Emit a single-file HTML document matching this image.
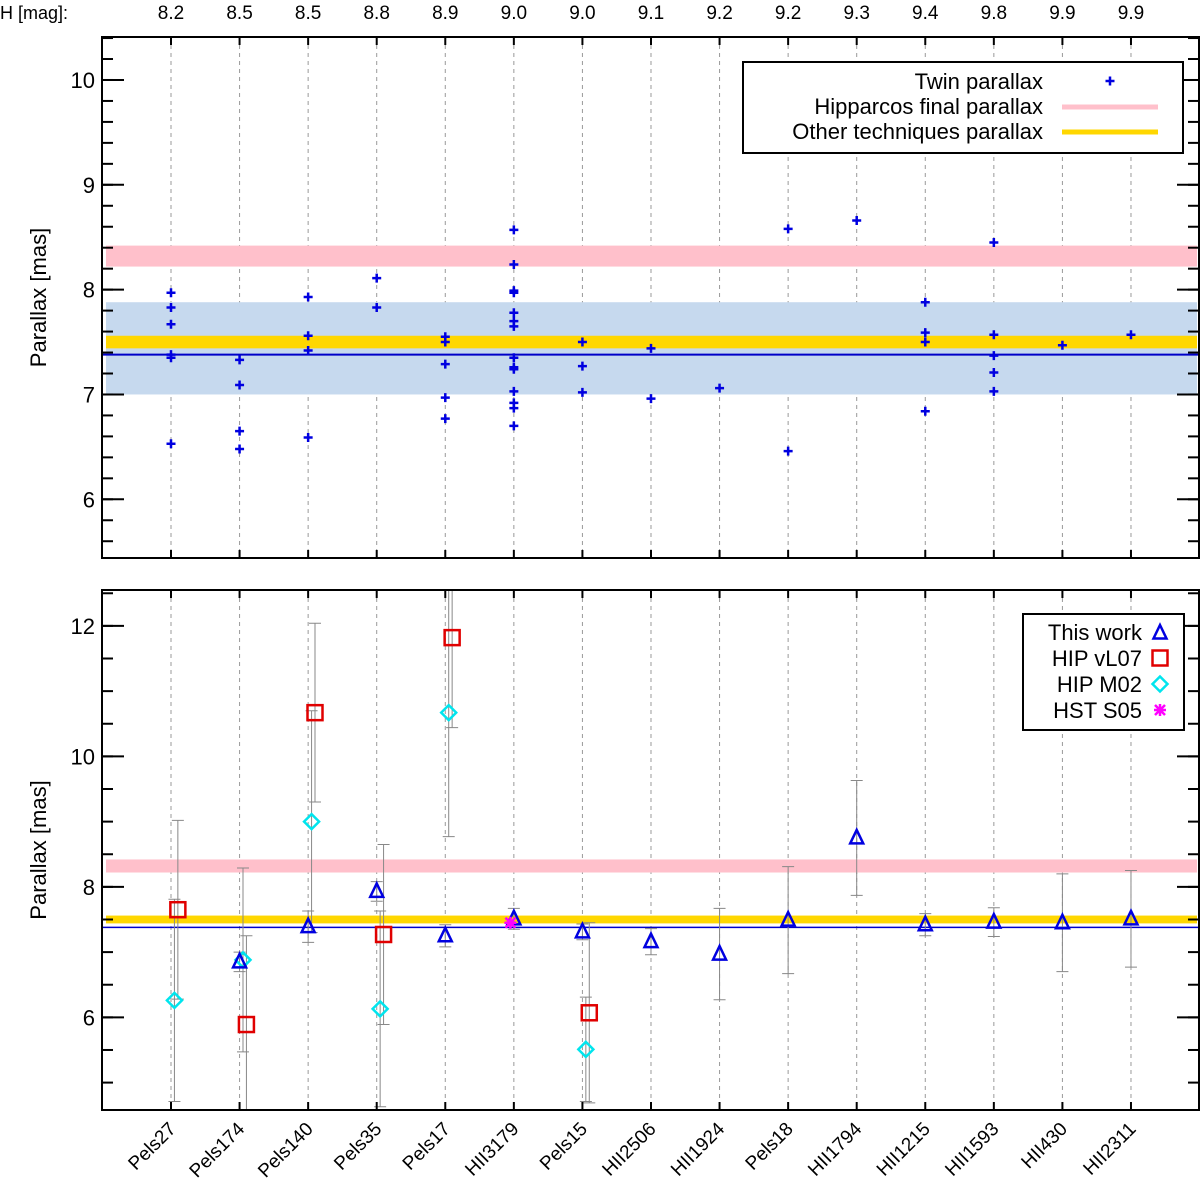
<!DOCTYPE html>
<html><head><meta charset="utf-8"><style>
html,body{margin:0;padding:0;background:#fff;}
svg{display:block;font-family:"Liberation Sans",sans-serif;}
</style></head><body>
<svg id="chart" width="1200" height="1193" viewBox="0 0 1200 1193" xmlns="http://www.w3.org/2000/svg"></svg>
<script>
const categories=["Pels27","Pels174","Pels140","Pels35","Pels17","HII3179","Pels15","HII2506","HII1924","Pels18","HII1794","HII1215","HII1593","HII430","HII2311"];
const hmags=["8.2","8.5","8.5","8.8","8.9","9.0","9.0","9.1","9.2","9.2","9.3","9.4","9.8","9.9","9.9"];
const twinValues=[
 [7.97,7.83,7.67,7.38,7.35,6.53],
 [7.33,7.09,6.65,6.48],
 [7.93,7.56,7.42,6.59],
 [8.11,7.83],
 [7.55,7.50,7.29,6.97,6.77],
 [8.57,8.24,7.99,7.97,7.78,7.70,7.65,7.35,7.26,7.24,7.03,6.92,6.87,6.70],
 [7.50,7.27,7.02],
 [7.44,6.96],
 [7.06],
 [8.58,6.46],
 [8.66],
 [7.88,7.59,7.50,6.84],
 [8.45,7.57,7.37,7.21,7.03],
 [7.47],
 [7.57]
];
const hipBand=[8.22,8.42];
const otherBand=[7.44,7.56];
const twinBand=[7.0,7.88];
const twinMean=7.38;
const thisWorkIdx=[1,2,3,4,5,6,7,8,9,10,11,12,13,14];
const thisWorkVal=[6.85,7.39,7.93,7.25,7.51,7.31,7.16,6.97,7.49,8.75,7.42,7.46,7.45,7.51];
const thisWorkErr=[0.15,0.24,0.15,0.17,0.16,0.12,0.2,0.7,0.82,0.88,0.17,0.22,0.75,0.74];
const vl07Idx=[0,1,2,3,4,6];
const vl07Val=[7.65,5.89,10.67,7.27,11.82,6.07];
const vl07Err=[1.37,1.36,1.37,1.38,1.38,1.38];
const m02Idx=[0,1,2,3,4,6];
const m02Val=[6.26,6.88,9.0,6.13,10.67,5.51];
const m02Err=[1.55,1.41,1.7,1.5,1.9,0.8];
const s05Idx=[5];
const s05Val=[7.45];
const s05Err=[0.05];

const NS="http://www.w3.org/2000/svg";
const svg=document.getElementById('chart');
function el(tag,attrs,parent){const e=document.createElementNS(NS,tag);for(const k in attrs)e.setAttribute(k,attrs[k]);(parent||svg).appendChild(e);return e;}
const X0=102,X1=1199;
function xs(i){return 171+i*68.57;}
const topP={y0:37,y1:558,vTop:10.41,vBot:5.44};
const botP={y0:590,y1:1110,vTop:12.55,vBot:4.58};
function ys(p,v){return p.y0+(p.vTop-v)/(p.vTop-p.vBot)*(p.y1-p.y0);}
function clip(p,v){return Math.max(p.y0,Math.min(p.y1,ys(p,v)));}

function panel(p,name){
  const g=el('g',{});
  
  
  categories.forEach((c,i)=>{
    const l=el('line',{x1:xs(i),x2:xs(i),y1:p.y0,y2:p.y1,stroke:'#999','stroke-width':1,'stroke-dasharray':'4,4'},g);
    
    
  });
  return g;
}
function frame(p,g,majors,minorStep){
  el('rect',{x:X0,y:p.y0,width:X1-X0,height:p.y1-p.y0,fill:'none',stroke:'#000','stroke-width':2},g);
  categories.forEach((c,i)=>{
    el('line',{x1:xs(i),x2:xs(i),y1:p.y0,y2:p.y0+8,stroke:'#000','stroke-width':2},g);
    el('line',{x1:xs(i),x2:xs(i),y1:p.y1,y2:p.y1-8,stroke:'#000','stroke-width':2},g);
  });
  for(let v=Math.ceil(p.vBot/minorStep)*minorStep;v<=p.vTop;v+=minorStep){
    const y=ys(p,v);
    el('line',{x1:X0,x2:X0+11,y1:y,y2:y,stroke:'#000','stroke-width':2},g);
    el('line',{x1:X1,x2:X1-11,y1:y,y2:y,stroke:'#000','stroke-width':2},g);
  }
  majors.forEach(v=>{
    const y=ys(p,v);
    el('line',{x1:X0,x2:X0+22,y1:y,y2:y,stroke:'#000','stroke-width':2},g);
    el('line',{x1:X1,x2:X1-22,y1:y,y2:y,stroke:'#000','stroke-width':2},g);
    const t=el('text',{x:X0-7,y:y+8,'text-anchor':'end','font-size':22},g);
    t.textContent=String(v);
    
    
  });
  const yc=(p.y0+p.y1)/2;
  const t=el('text',{x:46,y:yc,'text-anchor':'middle','font-size':22,transform:`rotate(-90 46 ${yc})`},g);
  t.textContent='Parallax [mas]';
  
  
}
function band(p,g,lo,hi,color,name){
  const r=el('rect',{x:X0+4,y:ys(p,hi),width:X1-X0-6,height:ys(p,lo)-ys(p,hi),fill:color},g);
  
  
}
function plus(g,x,y){
  const pth=el('path',{d:`M${x-4.5} ${y}H${x+4.5}M${x} ${y-4.5}V${y+4.5}`,stroke:'#0000e0','stroke-width':2.5},g);
  
  
}

const gt=panel(topP,'top-panel');
band(topP,gt,twinBand[0],twinBand[1],'#c6d9ee','twin-range-band');
band(topP,gt,hipBand[0],hipBand[1],'#ffc0cb','hipparcos-band');
band(topP,gt,otherBand[0],otherBand[1],'#ffd700','other-techniques-band');
const ml=el('line',{x1:X0,x2:X1,y1:ys(topP,twinMean),y2:ys(topP,twinMean),stroke:'#0000c8','stroke-width':2},gt);


twinValues.forEach((arr,i)=>arr.forEach(v=>plus(gt,xs(i),ys(topP,v))));
frame(topP,gt,[6,7,8,9,10],0.2);
const hl=el('text',{x:0,y:19,'font-size':18},gt);
hl.textContent='H [mag]:';


hmags.forEach((h,i)=>{
  const t=el('text',{x:xs(i),y:19,'text-anchor':'middle','font-size':19},gt);
  t.textContent=h;
  
  
});
const lg=el('g',{});


el('rect',{x:743,y:62,width:440,height:91,fill:'#fff',stroke:'#000','stroke-width':2},lg);
[['Twin parallax',81],['Hipparcos final parallax',106],['Other techniques parallax',131]].forEach(([s,y])=>{
  const t=el('text',{x:1043,y:y+8,'text-anchor':'end','font-size':22},lg);
  t.textContent=s;
  
  
});
plus(lg,1110,81);
el('line',{x1:1062,x2:1158,y1:107,y2:107,stroke:'#ffc0cb','stroke-width':5},lg);
el('line',{x1:1062,x2:1158,y1:132,y2:132,stroke:'#ffd700','stroke-width':5},lg);

const gb=panel(botP,'bottom-panel');
band(botP,gb,hipBand[0],hipBand[1],'#ffc0cb','hipparcos-band');
band(botP,gb,otherBand[0],otherBand[1],'#ffd700','other-techniques-band');
const ml2=el('line',{x1:X0,x2:X1,y1:ys(botP,twinMean),y2:ys(botP,twinMean),stroke:'#0000c8','stroke-width':1.5},gb);


function errbar(g,x,v,e){
  const yt=ys(botP,v+e),yb=ys(botP,v-e);
  const eb=el('path',{d:`M${x} ${clip(botP,v+e)}V${clip(botP,v-e)}`+(yt>=botP.y0?`M${x-6} ${yt}H${x+6}`:'')+(yb<=botP.y1?`M${x-6} ${yb}H${x+6}`:''),stroke:'#888','stroke-width':1,fill:'none'},g);
  
  
}
vl07Idx.forEach((i,k)=>errbar(gb,xs(i+0.1),vl07Val[k],vl07Err[k]));
m02Idx.forEach((i,k)=>errbar(gb,xs(i+0.05),m02Val[k],m02Err[k]));
thisWorkIdx.forEach((i,k)=>errbar(gb,xs(i),thisWorkVal[k],thisWorkErr[k]));
function tri(g,x,y,c){const e=el('path',{d:`M${x} ${y-8}L${x+6.5} ${y+5.5}L${x-6.5} ${y+5.5}Z`,fill:'none',stroke:c,'stroke-width':2.5},g);return e;}
function sq(g,x,y){const e=el('rect',{x:x-7.5,y:y-7.5,width:15,height:15,fill:'none',stroke:'#e00000','stroke-width':2.5},g);return e;}
function dia(g,x,y){const e=el('path',{d:`M${x} ${y-7.5}L${x+7.5} ${y}L${x} ${y+7.5}L${x-7.5} ${y}Z`,fill:'none',stroke:'#00e5ee','stroke-width':2.5},g);return e;}
function star(g,x,y){const e=el('path',{d:`M${x-6} ${y}H${x+6}M${x} ${y-6}V${y+6}M${x-5} ${y-5}L${x+5} ${y+5}M${x-5} ${y+5}L${x+5} ${y-5}`,stroke:'#ff00ff','stroke-width':2.5},g);return e;}
m02Idx.forEach((i,k)=>dia(gb,xs(i+0.05),ys(botP,m02Val[k])));
vl07Idx.forEach((i,k)=>sq(gb,xs(i+0.1),ys(botP,vl07Val[k])));
thisWorkIdx.forEach((i,k)=>tri(gb,xs(i),ys(botP,thisWorkVal[k]),'#0000e0'));
s05Idx.forEach((i,k)=>star(gb,xs(i-0.05),ys(botP,s05Val[k])));
frame(botP,gb,[6,8,10,12],0.5);
categories.forEach((c,i)=>{
  const x=xs(i)+6,y=1130;
  const t=el('text',{x:x,y:y,'text-anchor':'end','font-size':19,transform:`rotate(-45 ${x} ${y})`},gb);
  t.textContent=c;
  
  
});
const lb=el('g',{});


el('rect',{x:1023,y:614,width:161,height:116,fill:'#fff',stroke:'#000','stroke-width':2},lb);
const labs=['This work','HIP vL07','HIP M02','HST S05'];
labs.forEach((s,k)=>{
  const y=632+k*26;
  const t=el('text',{x:1142,y:y+8,'text-anchor':'end','font-size':22},lb);
  t.textContent=s;
  
  
});
tri(lb,1160,633,'#0000e0');sq(lb,1160,658);dia(lb,1160,684);star(lb,1160,710);
</script>
</body></html>
